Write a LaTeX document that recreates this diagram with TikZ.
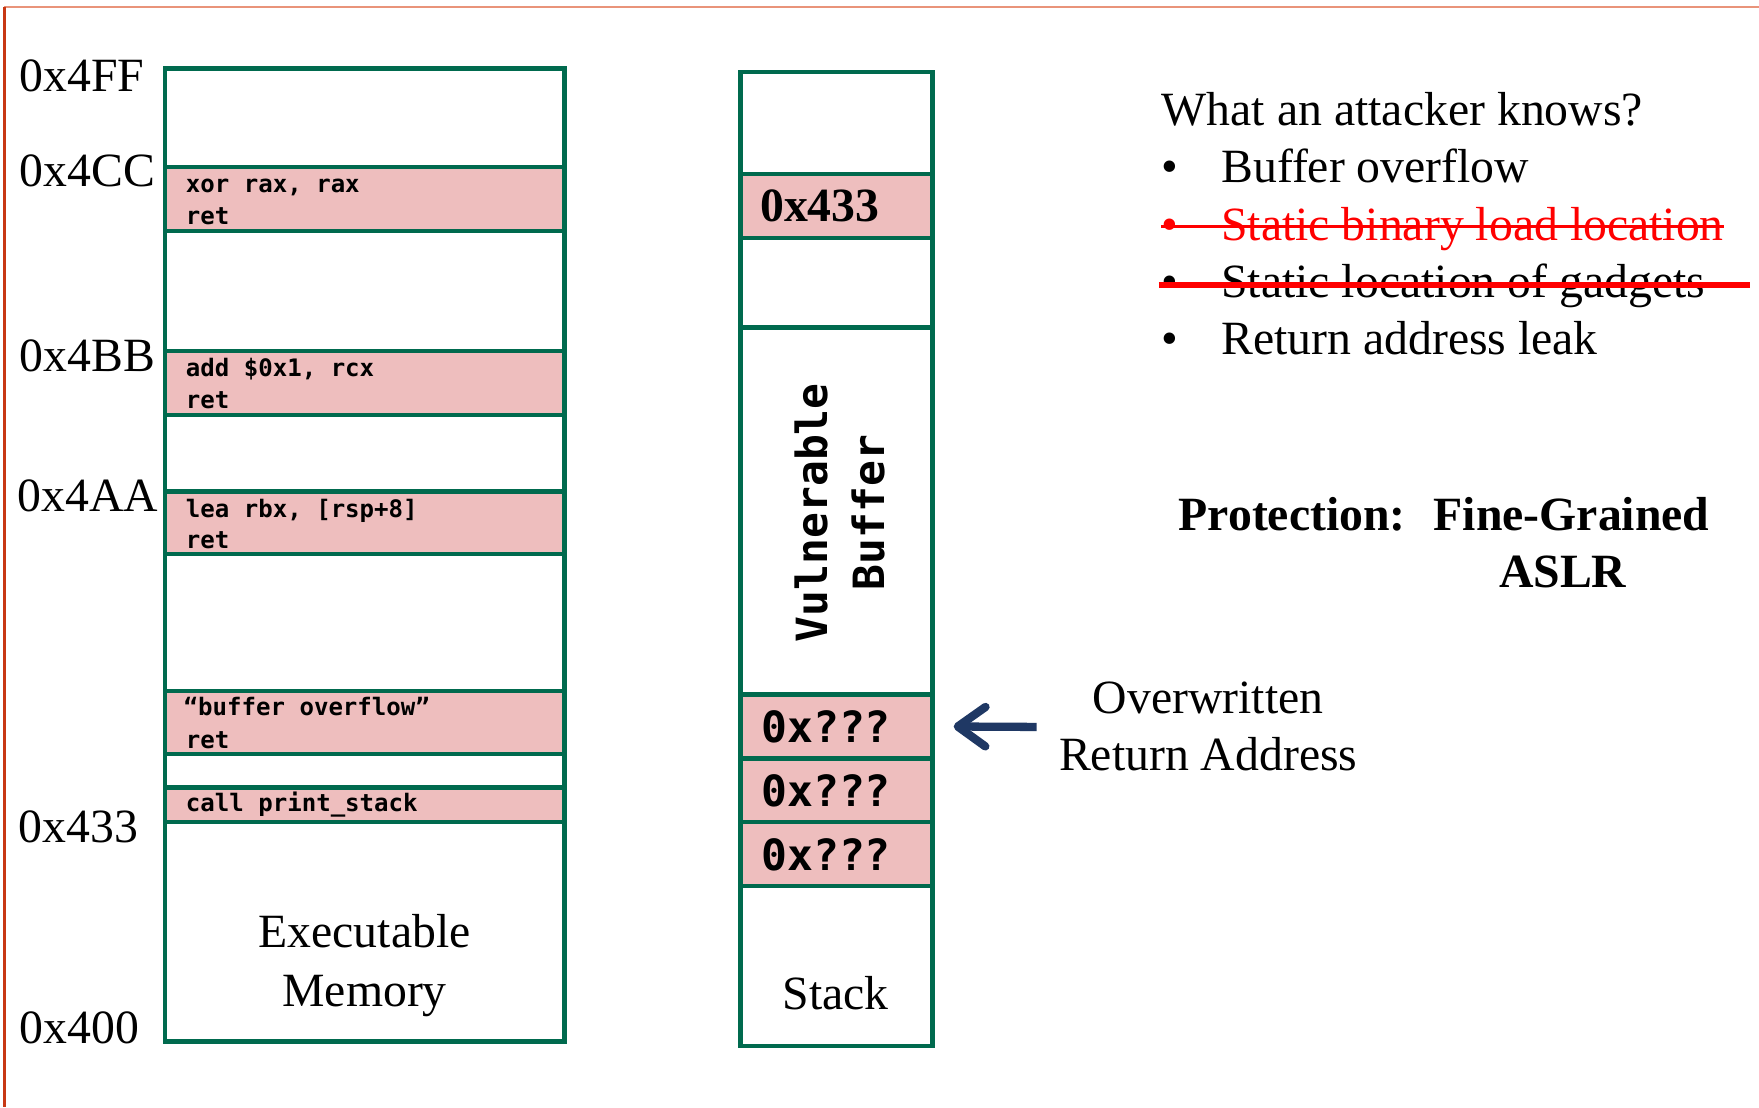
\documentclass[tikz,border=0pt]{standalone}
\usepackage{fontspec}
\setmainfont{Liberation Serif}
\setmonofont{DejaVu Sans Mono}
\usetikzlibrary{arrows.meta}

\definecolor{memgreen}{RGB}{0,106,78}
\definecolor{cellpink}{RGB}{238,190,190}
\definecolor{framered}{RGB}{200,56,20}
\definecolor{frametop}{RGB}{233,148,122}
\definecolor{arrownavy}{RGB}{31,56,100}
\definecolor{strikered}{RGB}{255,0,0}

\newcommand{\serifsize}{\fontsize{12.1pt}{14.5pt}\selectfont}
\newcommand{\codesize}{\ttfamily\bfseries\fontsize{6.1pt}{7.3pt}\selectfont}
\newcommand{\bigmono}{\ttfamily\bfseries\fontsize{10.9pt}{14.5pt}\selectfont}

\tikzset{
  region/.style={draw=memgreen, line width=1.1pt, inner sep=0pt, outer sep=0pt, anchor=north west},
  gadget/.style={region, fill=cellpink},
  codeline/.style={font=\codesize, anchor=base west, inner sep=0pt},
  addr/.style={font=\serifsize, anchor=base west, inner sep=0pt},
  body/.style={font=\serifsize, anchor=base, inner sep=0pt},
  listtext/.style={font=\serifsize, anchor=base west, inner sep=0pt},
  slotval/.style={font=\bigmono, anchor=base west, inner sep=0pt},
  strike/.style={strikered, line cap=butt},
  pointer/.style={arrownavy, line width=2.1pt,
    -{Straight Barb[length=7pt,width=10pt,line width=2.1pt,line cap=round,line join=round]}}
}

\begin{document}
\begin{tikzpicture}[x=0.01cm, y=-0.01cm]
  \useasboundingbox (0,0) rectangle (1568,987);
  \fill[white] (0,0) rectangle (1568,987);

  % page frame
  \draw[frametop, line width=0.6pt] (4,6) -- (1568,6);
  \draw[framered, line width=0.7pt] (4,6) -- (4,987);

  % ---------------- executable memory ----------------
  \node[region, minimum width=3.56cm, minimum height=8.67cm] (exec) at (147,61) {};

  \node[gadget, minimum width=3.56cm, minimum height=0.57cm] (g1) at (147,149) {};
  \node[gadget, minimum width=3.56cm, minimum height=0.57cm] (g2) at (147,313) {};
  \node[gadget, minimum width=3.56cm, minimum height=0.56cm] (g3) at (147,438) {};
  \node[gadget, minimum width=3.56cm, minimum height=0.56cm] (g4) at (147,616) {};
  \node[gadget, minimum width=3.56cm, minimum height=0.31cm] (g5) at (147,702) {};

  \node[codeline] (g1a) at (165,172) {xor rax, rax};
  \node[codeline] (g1b) at (165,200) {ret};
  \node[codeline] (g2a) at (165,336) {add \$0x1, rcx};
  \node[codeline] (g2b) at (165,364) {ret};
  \node[codeline] (g3a) at (165,461) {lea rbx, [rsp+8]};
  \node[codeline] (g3b) at (165,489) {ret};
  \node[codeline] (g4a) at (163,638) {“buffer overflow”};
  \node[codeline] (g4b) at (165,667) {ret};
  \node[codeline] (g5a) at (165,723) {call print\_stack};

  \node[addr] (a4ff) at (17,82)  {0x4FF};
  \node[addr] (a4cc) at (17,166) {0x4CC};
  \node[addr] (a4bb) at (17,331) {0x4BB};
  \node[addr] (a4aa) at (15,456) {0x4AA};
  \node[addr] (a433) at (16,751) {0x433};
  \node[addr] (a400) at (17,930) {0x400};

  \node[body] (execA) at (325,845) {Executable};
  \node[body] (execB) at (325,897) {Memory};

  % ---------------- stack ----------------
  \node[region, minimum width=1.71cm, minimum height=8.68cm] (stack) at (660,64) {};
  \node[gadget, minimum width=1.71cm, minimum height=0.57cm] (ret433) at (660,155) {};
  \node[region, minimum width=1.71cm, minimum height=0.80cm] (slot) at (660,212) {};
  \node[region, minimum width=1.71cm, minimum height=3.27cm] (vuln) at (660,292) {};
  \node[gadget, minimum width=1.71cm, minimum height=0.57cm] (q1) at (660,619) {};
  \node[gadget, minimum width=1.71cm, minimum height=0.57cm] (q2) at (660,676) {};
  \node[gadget, minimum width=1.71cm, minimum height=0.57cm] (q3) at (660,733) {};

  \node[font=\serifsize\bfseries, anchor=base west, inner sep=0pt] (v433) at (677,197) {0x433};
  \node[slotval] (q1t) at (678,662) {0x???};
  \node[slotval] (q2t) at (678,719) {0x???};
  \node[slotval] (q3t) at (678,776) {0x???};

  \node[font=\bigmono, rotate=90, align=center, inner sep=0pt] (vulntext) at (749,457)
    {Vulnerable\\Buffer};

  \node[body] (stacklbl) at (745,900) {Stack};

  % ---------------- overwritten return address ----------------
  \coordinate (tail) at (924,648);
  \draw[pointer, shorten >=0.19cm] (tail) -- (q1.east);
  \node[body] (owA) at (1077,636) {Overwritten};
  \node[body] (owB) at (1077,687) {Return Address};

  % ---------------- attacker knowledge ----------------
  \node[listtext] (title) at (1035,112) {What an attacker knows?};
  \node[listtext] (b1) at (1035,163) {•};
  \node[listtext] (t1) at (1088,163) {Buffer overflow};
  \node[listtext, text=strikered] (b2) at (1035,214) {•};
  \node[listtext, text=strikered] (t2) at (1088,214) {Static binary load location};
  \node[listtext] (b3) at (1035,265) {•};
  \node[listtext] (t3) at (1088,265) {Static location of gadgets};
  \node[listtext] (b4) at (1035,316) {•};
  \node[listtext] (t4) at (1088,316) {Return address leak};

  \draw[strike, line width=0.7pt] (1035,202) -- (1537,202);
  \draw[strike, line width=1.3pt] (1033,254) -- (1560,254);

  % ---------------- protection ----------------
  \node[listtext, font=\serifsize\bfseries] (prot) at (1050,473) {Protection:~ Fine-Grained};
  \node[body, font=\serifsize\bfseries] (aslr) at (1393,524) {ASLR};
\end{tikzpicture}
\end{document}
